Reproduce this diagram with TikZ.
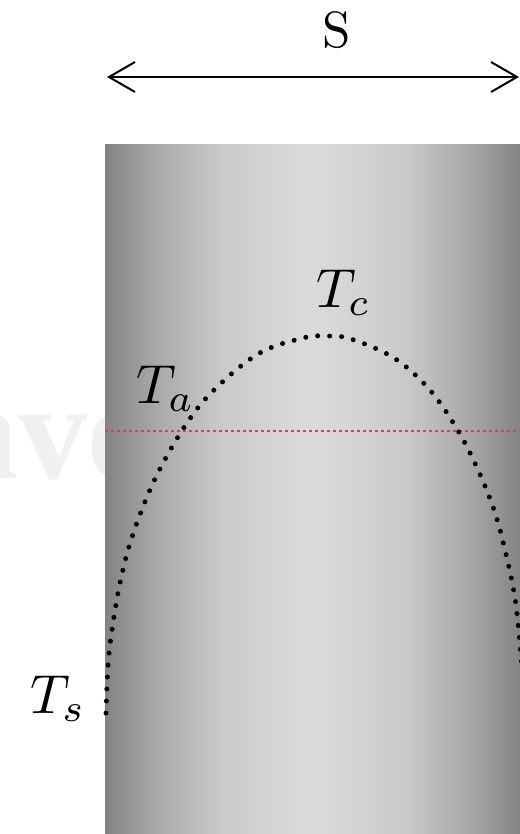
\documentclass[tikz,border=0pt]{standalone}
\usepackage{fontspec}
\newfontfamily\wmfont{Liberation Serif}
\usetikzlibrary{arrows.meta}
\definecolor{wmgray}{HTML}{F0F0F0}
\definecolor{redline}{HTML}{CC4A46}
\definecolor{cA}{HTML}{838383}
\definecolor{cB}{HTML}{A9A9A9}
\definecolor{cC}{HTML}{C9C9C9}
\definecolor{cD}{HTML}{D6D6D6}
\definecolor{cE}{HTML}{DADADA}
\pgfdeclarehorizontalshading{cylshade}{100bp}{color(0bp)=(cA); color(25bp)=(cA); color(31.25bp)=(cB); color(38.75bp)=(cC); color(46.25bp)=(cD); color(50bp)=(cE); color(53.75bp)=(cD); color(61.25bp)=(cC); color(68.75bp)=(cB); color(75bp)=(cA); color(100bp)=(cA)}
\begin{document}
\begin{tikzpicture}[x=1pt,y=-1pt,
  lbl/.style={inner sep=0pt, anchor=base west},
  dimarrow/.style={line width=2pt, {Straight Barb[length=26pt,width=30pt]}-{Straight Barb[length=26pt,width=30pt]}},
  refline/.style={draw=redline, line width=2.8pt, dash pattern=on 3pt off 3pt},
  dotcurve/.style={line width=5pt, line cap=round, dash pattern=on 0pt off 12pt}]
\useasboundingbox (0,0) rectangle (519,834);
% watermark
\node[lbl, text=wmgray, font=\wmfont\bfseries\fontsize{138}{140}\selectfont] (wm) at (-51,478) {ave};
% cylinder
\shade[shading=cylshade] (105,145) rectangle (520,834);
% dimension arrow
\coordinate (sL) at (107,77);
\coordinate (sR) at (519,77);
\draw[dimarrow] (sL) -- (sR);
\node[lbl] (S) at (322,48) {\scalebox{5.1}{S}};
% red reference line
\coordinate (rl) at (105,431);
\coordinate (rr) at (519,431);
\draw[refline] (rl) -- (rr);
% dotted profile
\draw[dotcurve] plot[smooth, tension=0.6] coordinates {
 (106,713) (108,666) (112,630) (120,583) (132,537) (154,481) (183,429)
 (212,392) (258,354) (303,338) (327,336) (351,339) (394,358) (429,389)
 (457,429) (479,472) (496,516) (508,563) (515,598) (519,633) (523,680) (525,713)};
% labels
\node[lbl] (Ta) at (136,403) {\scalebox{5.5}{$T_a$}};
\node[lbl] (Tc) at (316,307) {\scalebox{5.5}{$T_c$}};
\node[lbl] (Ts) at (30,713) {\scalebox{5.5}{$T_s$}};
\end{tikzpicture}
\end{document}
